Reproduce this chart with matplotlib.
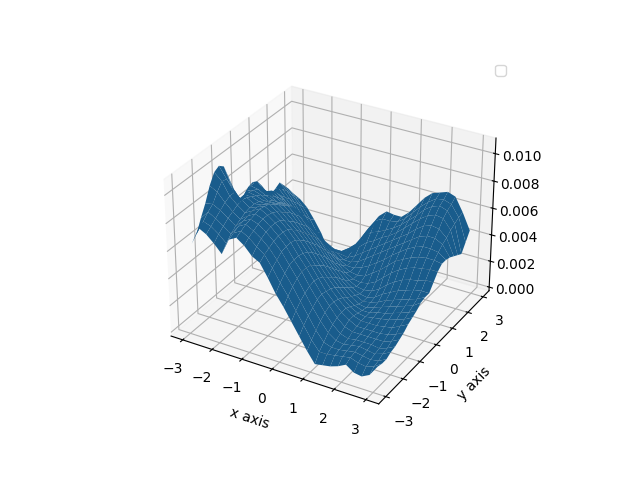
import numpy as np
import matplotlib
matplotlib.use("Agg")
import matplotlib.pyplot as plt

# grid positions
x_vals = [-3, -2.75, -2.5, -2.25, -2, -1.75, -1.5, -1.25, -1, -0.75, -0.5, -0.25, 0,
          0.25, 0.5, 0.75, 1, 1.25, 1.5, 1.75, 2, 2.25, 2.5, 2.75, 3]
y_vals = [-2.75, -2.5, -2.25, -2, -1.75, -1.5, -1.25, -1, -0.75, -0.5, -0.25, 0,
          0.25, 0.5, 0.75, 1, 1.25, 1.5, 1.75, 2, 2.25, 2.5, 2.75]

# surface height, one list per y value from front to back (units of 0.001)
z_00 = [6.1, 7.4, 7.1, 6.6, 6.0, 7.2, 7.5, 7.1, 6.5, 6.2, 5.3, 4.3, 3.5, 2.6, 1.7, 0.8, 0.0, 0.1, 0.2, 0.4, 0.7, 0.3, 0.2, 0.5, 1.3]
z_01 = [6.5, 7.6, 7.4, 7.0, 6.5, 7.4, 7.7, 7.4, 6.9, 6.5, 5.7, 4.8, 4.0, 3.1, 2.2, 1.3, 0.6, 0.6, 0.7, 0.8, 0.9, 0.7, 0.6, 0.8, 1.2]
z_02 = [7.4, 8.0, 7.7, 7.3, 6.9, 7.6, 7.9, 7.6, 7.2, 6.7, 6.0, 5.2, 4.4, 3.5, 2.6, 1.7, 1.0, 0.8, 0.8, 0.9, 1.0, 0.9, 0.8, 0.9, 1.2]
z_03 = [8.2, 8.3, 8.0, 7.6, 7.2, 7.7, 8.0, 7.8, 7.4, 6.9, 6.3, 5.5, 4.7, 3.8, 2.9, 2.1, 1.4, 1.0, 0.9, 1.0, 1.1, 1.0, 0.9, 1.1, 1.4]
z_04 = [9.2, 8.9, 8.3, 7.8, 7.4, 7.8, 8.1, 7.9, 7.5, 7.0, 6.4, 5.6, 4.9, 4.0, 3.2, 2.4, 1.7, 1.2, 1.0, 1.1, 1.1, 1.1, 1.0, 1.2, 1.5]
z_05 = [9.9, 9.4, 8.5, 8.0, 7.6, 7.9, 8.2, 7.9, 7.5, 7.0, 6.4, 5.6, 4.9, 4.1, 3.3, 2.6, 1.9, 1.4, 1.2, 1.2, 1.2, 1.2, 1.2, 1.4, 1.7]
z_06 = [10.1, 9.3, 8.5, 8.1, 7.7, 7.9, 8.1, 7.8, 7.4, 6.9, 6.3, 5.5, 4.8, 4.0, 3.2, 2.6, 2.0, 1.6, 1.3, 1.3, 1.3, 1.3, 1.4, 1.6, 1.9]
z_07 = [9.8, 8.5, 7.7, 8.0, 7.7, 7.8, 8.0, 7.6, 7.1, 6.6, 6.0, 5.3, 4.5, 3.8, 3.1, 2.5, 2.0, 1.6, 1.4, 1.4, 1.4, 1.5, 1.6, 1.9, 2.2]
z_08 = [8.7, 7.2, 7.8, 7.8, 7.6, 7.6, 7.7, 7.3, 6.8, 6.3, 5.7, 5.0, 4.2, 3.5, 2.9, 2.3, 1.8, 1.5, 1.4, 1.5, 1.6, 1.7, 1.9, 2.1, 2.4]
z_09 = [7.6, 6.9, 7.7, 7.6, 7.4, 7.4, 7.4, 7.0, 6.5, 5.9, 5.3, 4.6, 3.9, 3.2, 2.6, 2.0, 1.6, 1.4, 1.4, 1.6, 1.7, 1.9, 2.1, 2.3, 2.6]
z_10 = [6.3, 7.4, 7.6, 7.4, 7.1, 7.1, 7.1, 6.7, 6.1, 5.5, 4.9, 4.2, 3.5, 2.9, 2.3, 1.8, 1.4, 1.3, 1.5, 1.7, 1.9, 2.1, 2.3, 2.5, 2.9]
z_11 = [6.6, 7.5, 7.4, 7.1, 6.9, 6.8, 6.8, 6.3, 5.7, 5.1, 4.5, 3.8, 3.1, 2.5, 2.0, 1.6, 1.3, 1.4, 1.6, 1.9, 2.1, 2.3, 2.5, 2.7, 3.0]
z_12 = [7.0, 7.5, 7.2, 6.8, 6.5, 6.5, 6.4, 5.9, 5.3, 4.7, 4.0, 3.3, 2.7, 2.1, 1.7, 1.4, 1.3, 1.5, 1.9, 2.2, 2.5, 2.7, 2.9, 3.0, 3.0]
z_13 = [7.1, 6.7, 6.7, 6.5, 6.2, 6.1, 6.0, 5.4, 4.8, 4.2, 3.5, 2.8, 2.3, 1.8, 1.5, 1.4, 1.5, 1.8, 2.3, 2.7, 3.0, 3.2, 3.3, 3.5, 3.5]
z_14 = [6.9, 6.3, 6.5, 6.1, 5.8, 5.6, 5.4, 4.8, 4.3, 3.6, 3.0, 2.4, 1.9, 1.6, 1.5, 1.6, 1.9, 2.4, 2.9, 3.3, 3.6, 3.8, 3.9, 4.0, 4.0]
z_15 = [6.3, 5.7, 6.1, 5.7, 5.3, 5.0, 4.8, 4.2, 3.7, 3.1, 2.5, 2.0, 1.7, 1.6, 1.7, 2.1, 2.5, 3.0, 3.5, 3.8, 4.1, 4.3, 4.4, 4.4, 4.3]
z_16 = [5.6, 5.8, 5.6, 5.1, 4.7, 4.4, 4.1, 3.6, 3.1, 2.5, 2.0, 1.7, 1.7, 1.9, 2.2, 2.6, 3.0, 3.5, 3.9, 4.3, 4.6, 4.8, 4.8, 4.7, 4.3]
z_17 = [5.1, 5.8, 5.2, 4.6, 4.1, 3.7, 3.3, 2.9, 2.5, 2.1, 1.7, 1.7, 1.9, 2.3, 2.7, 3.1, 3.5, 3.9, 4.3, 4.7, 5.1, 5.3, 5.3, 5.0, 4.2]
z_18 = [5.3, 5.4, 4.8, 4.1, 3.5, 3.0, 2.7, 2.3, 2.0, 1.7, 1.6, 1.9, 2.3, 2.7, 3.1, 3.5, 3.9, 4.3, 4.7, 5.2, 5.6, 5.8, 5.7, 5.2, 4.0]
z_19 = [5.5, 5.0, 4.3, 3.5, 2.8, 2.3, 2.0, 1.7, 1.5, 1.5, 1.8, 2.3, 2.8, 3.1, 3.5, 3.8, 4.2, 4.7, 5.2, 5.7, 6.1, 6.3, 6.2, 5.5, 3.8]
z_20 = [5.0, 4.5, 3.9, 3.1, 2.2, 1.6, 1.3, 1.2, 1.2, 1.6, 2.1, 2.8, 3.3, 3.5, 3.8, 4.1, 4.5, 5.0, 5.5, 6.1, 6.5, 6.7, 6.5, 5.7, 3.6]
z_21 = [4.5, 4.0, 3.4, 2.6, 1.7, 0.9, 0.6, 0.6, 0.9, 1.4, 2.2, 3.1, 3.9, 4.2, 4.2, 4.3, 4.7, 5.3, 5.9, 6.4, 6.8, 6.9, 6.7, 5.9, 4.2]
z_22 = [3.9, 3.6, 3.1, 2.3, 1.4, 0.2, 0.2, 0.2, 0.5, 0.9, 1.8, 2.8, 4.0, 4.5, 4.4, 4.4, 4.9, 5.6, 6.3, 6.8, 7.0, 7.2, 7.0, 6.0, 4.8]

Z = np.array([z_00, z_01, z_02, z_03, z_04, z_05, z_06, z_07, z_08, z_09, z_10, z_11,
              z_12, z_13, z_14, z_15, z_16, z_17, z_18, z_19, z_20, z_21, z_22]) / 1000
X, Y = np.meshgrid(x_vals, y_vals)

fig = plt.figure(figsize=(6.4, 4.8), dpi=100)
ax = fig.add_subplot(projection="3d")
ax.plot_surface(X, Y, Z, rstride=1, cstride=1, color="#195c8c",
                shade=False, linewidth=0, antialiased=True)

ax.set_xlim(-3.4, 3.4)
ax.set_ylim(-3.4, 3.4)
ax.set_zlim(-0.00028, 0.01112)
ax.set_xlabel("x axis")
ax.set_ylabel("y axis")
ax.legend(handles=[])

plt.savefig("out.png")
